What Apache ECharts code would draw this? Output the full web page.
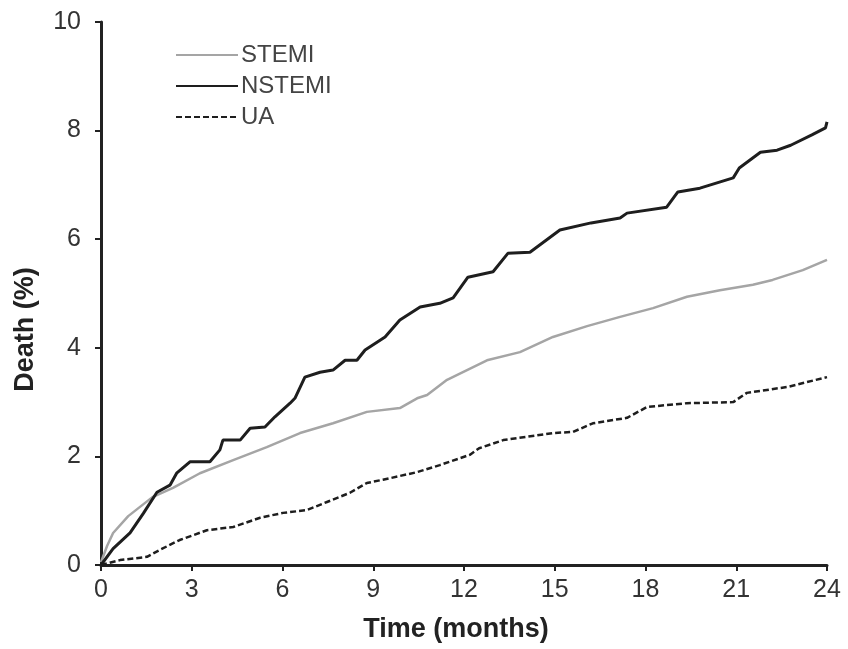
<!DOCTYPE html>
<html><head><meta charset="utf-8">
<script src="https://cdn.jsdelivr.net/npm/echarts@6/dist/echarts.min.js"></script>
<style>html,body{margin:0;padding:0;background:#fff}#c{width:848px;height:649px}</style>
</head><body><div id="c"></div>
<script>
const xTicks = [0, 3, 6, 9, 12, 15, 18, 21, 24];
const yTicks = [0, 2, 4, 6, 8, 10];
const stemi = [[0,0.05],[0.2,0.35],[0.4,0.59],[0.9,0.9],[1.7,1.25],[2.38,1.42],[3.27,1.69],[4.37,1.93],[5.48,2.17],[6.58,2.43],[7.67,2.61],[8.79,2.82],[9.88,2.89],[10.45,3.07],[10.78,3.13],[11.44,3.41],[12.76,3.77],[13.85,3.92],[14.94,4.2],[16.07,4.4],[17.16,4.57],[18.25,4.73],[19.37,4.94],[20.46,5.06],[21.55,5.16],[22.2,5.25],[23.2,5.43],[24,5.62]];
const nstemi = [[0,0],[0.4,0.3],[0.96,0.59],[1.4,0.95],[1.85,1.34],[2.28,1.47],[2.5,1.69],[2.94,1.9],[3.6,1.9],[3.93,2.12],[4.03,2.3],[4.6,2.3],[4.93,2.52],[5.42,2.54],[5.75,2.73],[6.25,2.98],[6.41,3.07],[6.74,3.46],[7.24,3.55],[7.67,3.59],[8.07,3.77],[8.46,3.77],[8.73,3.96],[9.39,4.2],[9.88,4.51],[10.55,4.75],[11.2,4.82],[11.64,4.92],[12.13,5.3],[12.96,5.4],[13.45,5.74],[14.18,5.76],[15.17,6.17],[16.2,6.3],[17.16,6.39],[17.39,6.48],[18.7,6.59],[19.07,6.87],[19.8,6.94],[20.9,7.13],[21.1,7.31],[21.8,7.6],[22.35,7.64],[22.8,7.73],[23.5,7.92],[23.95,8.05],[24,8.16]];
const ua = [[0,0],[0.63,0.09],[1.52,0.15],[1.95,0.28],[2.6,0.46],[3.5,0.64],[4.37,0.7],[5.26,0.87],[6.02,0.96],[6.8,1.01],[7.47,1.16],[8.23,1.33],[8.79,1.51],[9.32,1.57],[10.45,1.71],[11.2,1.84],[12.2,2.03],[12.5,2.15],[13.3,2.3],[14.94,2.43],[15.6,2.45],[16.26,2.61],[17.39,2.71],[18.05,2.91],[19.37,2.98],[20.9,3.0],[21.35,3.17],[22.7,3.28],[24,3.46]];

const chart = echarts.init(document.getElementById('c'));
const font = 'Liberation Sans, Arial, sans-serif';
chart.setOption({
  animation: false,
  backgroundColor: '#fff',
  grid: {left: 101, right: 21, top: 22, bottom: 84, containLabel: false},
  legend: {
    orient: 'vertical', left: 170, top: 38, itemWidth: 62, itemHeight: 14, itemGap: 7,
    itemStyle: {color: 'rgba(0,0,0,0)', borderWidth: 0, borderColor: 'rgba(0,0,0,0)', opacity: 0},
    textStyle: {fontFamily: font, fontSize: 24, color: '#444', padding: [0,0,0,-2]},
    data: ['STEMI', 'NSTEMI', 'UA']
  },
  xAxis: {
    type: 'value', min: 0, max: 24, interval: 3,
    name: 'Time (months)', nameLocation: 'middle', nameGap: 51,
    nameTextStyle: {fontFamily: font, fontSize: 27, fontWeight: 'bold', color: '#222', padding: [0, 16, 0, 0]},
    axisLine: {show: true, lineStyle: {color: '#222', width: 3}},
    axisTick: {show: true, length: 6, lineStyle: {color: '#222', width: 2}},
    axisLabel: {fontFamily: font, fontSize: 25, color: '#333', margin: 13,
      formatter: v => xTicks.includes(v) ? String(v) : ''},
    splitLine: {show: false}
  },
  yAxis: {
    type: 'value', min: 0, max: 10, interval: 2,
    name: 'Death (%)', nameLocation: 'middle', nameGap: 62,
    nameTextStyle: {fontFamily: font, fontSize: 27, fontWeight: 'bold', color: '#222', padding: [0, 72, 0, 0]},
    axisLine: {show: true, lineStyle: {color: '#222', width: 3}},
    axisTick: {show: true, length: 6, lineStyle: {color: '#222', width: 2}},
    axisLabel: {fontFamily: font, fontSize: 25, color: '#333', margin: 20,
      formatter: v => yTicks.includes(v) ? String(v) : ''},
    splitLine: {show: false}
  },
  series: [
    {name: 'STEMI', type: 'line', data: stemi, symbol: 'none', lineStyle: {color: '#a5a5a5', width: 2.5}, itemStyle: {color: '#a5a5a5'}},
    {name: 'NSTEMI', type: 'line', data: nstemi, symbol: 'none', lineStyle: {color: '#1e1e1e', width: 3}, itemStyle: {color: '#1e1e1e'}},
    {name: 'UA', type: 'line', data: ua, symbol: 'none', lineStyle: {color: '#1e1e1e', width: 2.5, type: [6, 3]}, itemStyle: {color: '#1e1e1e'}}
  ]
});
</script></body></html>
